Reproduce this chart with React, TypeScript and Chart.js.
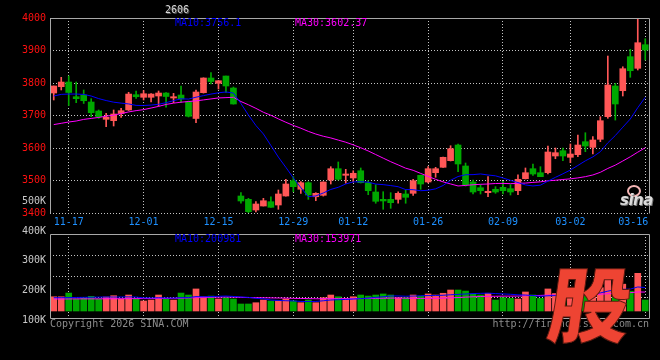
import React, { useEffect, useRef } from "react";
import { Chart, registerables } from "chart.js";

Chart.register(...registerables);

// ---------- data ----------
const dates = [
  "11-13", "11-14", "11-17", "11-18", "11-19", "11-20", "11-21", "11-24", "11-25", "11-26",
  "11-27", "11-28", "12-01", "12-02", "12-03", "12-04", "12-05", "12-08", "12-09", "12-10",
  "12-11", "12-12", "12-15", "12-16", "12-17", "12-18", "12-19", "12-22", "12-23", "12-24",
  "12-25", "12-26", "12-29", "12-30", "12-31", "01-05", "01-06", "01-07", "01-08", "01-09",
  "01-12", "01-13", "01-14", "01-15", "01-16", "01-19", "01-20", "01-21", "01-22", "01-23",
  "01-26", "01-27", "01-28", "01-29", "01-30", "02-02", "02-03", "02-04", "02-05", "02-06",
  "02-09", "02-10", "02-11", "02-12", "02-13", "02-24", "02-25", "02-26", "02-27", "03-02",
  "03-03", "03-04", "03-05", "03-06", "03-09", "03-10", "03-11", "03-12", "03-13", "03-16",
];

const tickDates = ["11-17", "12-01", "12-15", "12-29", "01-12", "01-26", "02-09", "03-02", "03-16"];

const open = [
  3769.2, 3788.6, 3803.0, 3757.8, 3763.0, 3741.5, 3713.8, 3688.3, 3684.0, 3706.0,
  3717.0, 3764.0, 3756.0, 3756.0, 3760.0, 3769.2, 3753.8, 3763.0, 3742.4, 3690.8,
  3770.2, 3815.4, 3799.0, 3821.5, 3784.6, 3452.3, 3442.1, 3409.2, 3421.5, 3434.8,
  3424.6, 3452.3, 3499.4, 3473.0, 3493.2, 3450.0, 3454.4, 3501.5, 3536.3, 3516.0,
  3507.7, 3530.0, 3493.2, 3464.6, 3442.1, 3442.0, 3442.0, 3458.5, 3460.6, 3516.0,
  3495.4, 3524.0, 3540.6, 3561.0, 3609.2, 3544.6, 3495.4, 3477.8, 3462.5, 3473.0,
  3479.0, 3474.8, 3468.6, 3505.5, 3536.3, 3524.0, 3524.0, 3575.4, 3591.7, 3571.4,
  3579.4, 3619.4, 3602.0, 3626.8, 3696.3, 3790.8, 3776.3, 3881.0, 3845.2, 3917.8,
];
const high = [
  3790.8, 3817.5, 3821.5, 3803.0, 3778.5, 3751.7, 3717.0, 3706.8, 3717.0, 3722.0,
  3771.4, 3775.4, 3777.0, 3767.7, 3775.4, 3770.8, 3768.3, 3790.8, 3744.6, 3778.5,
  3816.0, 3831.7, 3807.7, 3821.5, 3787.7, 3462.5, 3445.2, 3434.8, 3445.2, 3450.0,
  3470.8, 3503.7, 3511.7, 3496.3, 3496.3, 3462.5, 3496.0, 3542.5, 3557.0, 3534.4,
  3530.0, 3538.5, 3499.4, 3487.0, 3465.5, 3462.5, 3465.5, 3470.8, 3503.7, 3516.5,
  3542.5, 3540.6, 3572.0, 3607.0, 3612.3, 3553.8, 3501.5, 3487.0, 3511.7, 3481.0,
  3497.5, 3487.0, 3517.8, 3538.5, 3550.8, 3542.5, 3606.0, 3600.0, 3600.0, 3612.3,
  3640.0, 3647.0, 3634.8, 3696.3, 3883.0, 3799.0, 3850.0, 3903.7, 3997.8, 3936.3,
];
const low = [
  3747.7, 3778.5, 3730.8, 3739.4, 3737.0, 3696.3, 3691.0, 3665.5, 3667.7, 3694.4,
  3715.4, 3752.3, 3747.7, 3741.5, 3729.2, 3726.0, 3739.4, 3740.0, 3695.4, 3677.8,
  3769.0, 3797.0, 3781.5, 3770.8, 3735.0, 3430.0, 3400.0, 3403.0, 3421.5, 3417.0,
  3411.4, 3452.0, 3465.5, 3460.6, 3442.0, 3437.8, 3452.0, 3489.2, 3501.5, 3491.4,
  3495.4, 3492.3, 3456.3, 3430.0, 3411.4, 3414.4, 3430.0, 3430.0, 3454.4, 3473.0,
  3492.3, 3509.8, 3540.0, 3560.0, 3527.0, 3483.0, 3458.5, 3458.5, 3450.0, 3460.6,
  3458.5, 3455.4, 3456.3, 3504.6, 3516.0, 3511.7, 3520.0, 3567.0, 3561.0, 3554.7,
  3573.2, 3588.6, 3581.5, 3619.4, 3691.4, 3686.0, 3760.0, 3817.5, 3840.0, 3870.8,
];
const close = [
  3790.8, 3803.0, 3770.8, 3751.7, 3745.5, 3708.6, 3696.3, 3694.4, 3704.6, 3714.8,
  3766.0, 3757.8, 3767.0, 3766.0, 3769.2, 3758.5, 3757.8, 3750.8, 3697.5, 3772.3,
  3815.4, 3804.6, 3807.0, 3790.8, 3735.4, 3437.0, 3404.0, 3427.7, 3437.8, 3417.5,
  3458.5, 3489.2, 3481.0, 3493.2, 3455.4, 3460.6, 3495.4, 3536.3, 3503.7, 3520.0,
  3522.2, 3493.2, 3468.6, 3436.0, 3437.0, 3431.7, 3460.6, 3448.3, 3499.4, 3489.2,
  3536.3, 3536.3, 3571.4, 3597.8, 3550.8, 3487.0, 3464.6, 3468.6, 3466.8, 3464.6,
  3468.6, 3464.6, 3503.7, 3524.0, 3520.0, 3511.7, 3587.7, 3585.6, 3575.4, 3581.5,
  3609.2, 3606.2, 3624.6, 3684.0, 3793.8, 3735.4, 3844.0, 3837.8, 3924.0, 3901.5,
];

const ma10 = [
  3760, 3765, 3766, 3766, 3765, 3760, 3752, 3746, 3741, 3738.1,
  3735.6, 3731.1, 3730.7, 3732.1, 3734.5, 3739.5, 3745.6, 3751.3, 3750.5, 3756.3,
  3761.2, 3765.9, 3769.9, 3772.4, 3769.0, 3736.9, 3701.5, 3669.2, 3643.2, 3607.7,
  3572.0, 3540.5, 3507.9, 3478.1, 3450.1, 3452.5, 3461.6, 3472.5, 3479.1, 3489.3,
  3495.7, 3496.1, 3494.9, 3489.1, 3487.3, 3484.4, 3480.9, 3472.1, 3471.7, 3468.6,
  3470.0, 3474.3, 3484.6, 3500.8, 3512.2, 3517.7, 3518.1, 3520.1, 3516.9, 3514.4,
  3507.7, 3500.5, 3493.7, 3486.3, 3483.3, 3485.7, 3498.0, 3509.7, 3520.6, 3532.3,
  3546.3, 3560.5, 3572.6, 3588.6, 3616.0, 3638.3, 3664.0, 3689.2, 3724.1, 3756.1,
];
const ma30 = [
  3672, 3676, 3680, 3683, 3688, 3691, 3694, 3698, 3701, 3706,
  3711, 3715, 3718, 3723, 3728, 3734, 3738, 3741, 3743, 3745,
  3748, 3751, 3754, 3755, 3756, 3743, 3733, 3722, 3710, 3700.7,
  3689.6, 3679.2, 3669.5, 3660.9, 3651.2, 3642.9, 3636.2, 3631.0, 3624.3, 3617.8,
  3609.7, 3600.8, 3590.9, 3579.9, 3568.8, 3557.9, 3548.0, 3537.9, 3531.3, 3521.9,
  3512.6, 3503.6, 3495.8, 3489.4, 3483.2, 3484.9, 3486.9, 3488.3, 3489.2, 3490.8,
  3491.1, 3490.3, 3491.1, 3492.1, 3494.2, 3495.9, 3499.0, 3500.7, 3503.1, 3505.1,
  3508.0, 3511.8, 3517.0, 3525.2, 3537.1, 3547.3, 3560.0, 3573.0, 3587.2, 3600.9,
];

// volume in thousands (K)
const volume = [
  122, 122, 154, 103, 114, 126, 103, 120, 131, 103,
  137, 103, 86, 94, 137, 103, 94, 154, 137, 189,
  122, 128, 103, 114, 103, 60, 60, 71, 94, 86,
  86, 103, 86, 71, 94, 71, 114, 137, 122, 108,
  122, 137, 128, 137, 146, 137, 114, 114, 137, 128,
  146, 137, 152, 180, 180, 171, 146, 137, 152, 94,
  114, 108, 103, 163, 137, 108, 189, 150, 140, 145,
  170, 160, 150, 200, 290, 223, 230, 170, 323, 94,
];
const volMa10 = [
  114, 114, 115, 116, 117, 118, 119, 120, 120, 119.8,
  121.3, 119.4, 112.6, 111.7, 114.0, 111.7, 110.8, 114.2, 114.8, 123.4,
  121.9, 124.4, 126.1, 128.1, 124.7, 120.4, 117.0, 108.7, 104.4, 94.1,
  90.5, 88.0, 86.3, 82.0, 81.1, 82.2, 87.6, 94.2, 97.0, 99.2,
  102.8, 106.2, 110.4, 117.0, 122.2, 128.8, 128.8, 126.5, 128.0, 130.0,
  132.4, 132.4, 134.8, 139.1, 142.5, 145.9, 149.1, 151.4, 152.9, 149.5,
  146.3, 143.4, 138.5, 136.8, 132.5, 126.2, 130.5, 131.8, 130.6, 135.7,
  141.3, 146.5, 151.2, 154.9, 170.2, 181.7, 185.8, 187.8, 206.1, 201.0,
];
const volMa30 = [
  103, 103, 103, 104, 104, 104, 104, 105, 105, 105,
  106, 106, 106, 107, 107, 108, 109, 110, 112, 114,
  116, 118, 119, 120, 119, 117, 115, 114, 113, 112.4,
  111.2, 110.6, 108.3, 107.3, 106.6, 104.8, 105.1, 105.7, 105.4, 105.6,
  105.1, 106.2, 107.6, 109.0, 109.3, 110.5, 111.1, 109.8, 109.8, 107.8,
  108.6, 108.9, 110.5, 112.7, 115.3, 119.0, 121.8, 124.0, 126.0, 126.2,
  127.2, 127.3, 127.9, 131.0, 132.4, 133.6, 136.1, 136.6, 137.2, 138.4,
  140.0, 140.8, 141.5, 143.6, 148.4, 151.3, 155.1, 157.0, 163.2, 162.1,
];

const volumeTickValues = [100, 200, 300, 400, 500];

const legendPrice = { ma10: "MA10:3756.1", ma30: "MA30:3602.37" };
const legendVolume = { ma10: "MA10:200981", ma30: "MA30:153971" };

// ---------- styles ----------
const RED = "#ff5757";
const GREEN = "#00a800";
const GRID = "#c4c4c4";
const FRAME = "#a8a8a8";
const MONO = "'DejaVu Sans Mono', monospace";

const framePlugin = {
  id: "frame",
  afterDatasetsDraw(chart: any, _args: any, opts: any) {
    const { ctx, chartArea: a } = chart;
    ctx.save();
    ctx.strokeStyle = FRAME;
    ctx.lineWidth = 1;
    ctx.setLineDash([]);
    const l = Math.round(a.left) + 0.5;
    const r = Math.round(a.right) + 0.5;
    const t = Math.round(a.top) + 0.5;
    const b = Math.round(a.bottom) + 0.5;
    ctx.beginPath();
    ctx.moveTo(l, b);
    ctx.lineTo(l, t);
    ctx.lineTo(r, t);
    ctx.lineTo(r, b);
    if (opts && opts.bottom) ctx.lineTo(l, b);
    ctx.stroke();
    ctx.restore();
  },
};

const tickIdx = tickDates.map((d) => dates.indexOf(d));
const candleColors = close.map((c, i) => (c >= open[i] ? RED : GREEN));

const xAxisBase = (showLabels: boolean) => ({
  type: "category" as const,
  offset: true,
  grid: { color: GRID, offset: false, drawTicks: false, lineWidth: 1 },
  border: { display: false, dash: [1, 2] },
  ticks: {
    display: showLabels,
    autoSkip: false,
    maxRotation: 0,
    minRotation: 0,
    color: "#1e90ff",
    font: { family: MONO, size: 10 },
    padding: 3,
    callback: (v: number) => (v === dates.length - 1 ? dates[v] + "    " : dates[v]),
  },
  afterBuildTicks: (s: any) => {
    s.ticks = tickIdx.map((v) => ({ value: v }));
  },
  afterFit: (s: any) => {
    s.height = showLabels ? 19 : 0;
    s.paddingLeft = 0;
    s.paddingRight = 0;
  },
});

const VOL_MIN = -60;
const VOL_MAX = 660;

export default function App() {
  const priceRef = useRef<HTMLCanvasElement>(null);
  const volRef = useRef<HTMLCanvasElement>(null);

  useEffect(() => {
    const price = new Chart(priceRef.current as HTMLCanvasElement, {
      type: "bar",
      data: {
        labels: dates,
        datasets: [
          {
            type: "line",
            data: ma10,
            borderColor: "#0000ff",
            borderWidth: 1,
            pointRadius: 0,
            tension: 0,
            fill: false,
            order: 0,
          } as any,
          {
            type: "line",
            data: ma30,
            borderColor: "#ff00ff",
            borderWidth: 1,
            pointRadius: 0,
            tension: 0,
            fill: false,
            order: 0,
          } as any,
          {
            type: "bar",
            data: open.map((o, i) => [Math.min(o, close[i]), Math.max(o, close[i])]),
            backgroundColor: candleColors,
            barThickness: 6,
            minBarLength: 1,
            grouped: false,
            order: 1,
          } as any,
          {
            type: "bar",
            data: low.map((l, i) => [l, high[i]]),
            backgroundColor: candleColors,
            barThickness: 1,
            grouped: false,
            order: 2,
          } as any,
        ],
      },
      options: {
        animation: false,
        responsive: false,
        devicePixelRatio: 1,
        events: [],
        layout: { padding: { top: 18, right: 11, bottom: 0, left: 0 } },
        plugins: {
          legend: { display: false },
          tooltip: { enabled: false },
          frame: { bottom: false },
        } as any,
        scales: {
          x: xAxisBase(true) as any,
          y: {
            min: 3400,
            max: 4000,
            ticks: {
              stepSize: 100,
              color: "#ff1010",
              font: { family: MONO, size: 10 },
              padding: 4,
              callback: (v: number) => String(v),
            },
            grid: { color: GRID, drawTicks: false },
            border: { display: false, dash: [1, 2] },
            afterFit: (s: any) => {
              s.width = 50;
            },
          } as any,
        },
      },
      plugins: [framePlugin],
    });

    const vol = new Chart(volRef.current as HTMLCanvasElement, {
      type: "bar",
      data: {
        labels: dates,
        datasets: [
          {
            type: "line",
            data: volMa10,
            borderColor: "#0000ff",
            borderWidth: 1,
            pointRadius: 0,
            tension: 0,
            fill: false,
            order: 0,
          } as any,
          {
            type: "line",
            data: volMa30,
            borderColor: "#ff00ff",
            borderWidth: 1,
            pointRadius: 0,
            tension: 0,
            fill: false,
            order: 0,
          } as any,
          {
            type: "bar",
            data: volume,
            backgroundColor: candleColors,
            barThickness: 6,
            order: 1,
          } as any,
        ],
      },
      options: {
        animation: false,
        responsive: false,
        devicePixelRatio: 1,
        events: [],
        layout: { padding: { top: 44, right: 11, bottom: 42, left: 0 } },
        plugins: {
          legend: { display: false },
          tooltip: { enabled: false },
          frame: { bottom: true },
        } as any,
        scales: {
          x: xAxisBase(false) as any,
          y: {
            min: VOL_MIN,
            max: VOL_MAX,
            ticks: { display: false },
            grid: { color: GRID, drawTicks: false },
            border: { display: false, dash: [1, 2] },
            afterBuildTicks: (s: any) => {
              s.ticks = [1, 2, 3].map((k) => ({ value: VOL_MIN + ((VOL_MAX - VOL_MIN) * k) / 4 }));
            },
            afterFit: (s: any) => {
              s.width = 0;
            },
          } as any,
          yl: {
            position: "left",
            min: 108.5,
            max: 389.95,
            grid: { display: false, drawTicks: false },
            border: { display: false },
            ticks: {
              autoSkip: false,
              color: "#c8c8c8",
              font: { family: MONO, size: 10 },
              padding: 4,
              callback: (v: number) => v + "K",
            },
            afterBuildTicks: (s: any) => {
              s.ticks = volumeTickValues.map((v) => ({ value: v }));
            },
            afterFit: (s: any) => {
              s.width = 50;
            },
          } as any,
        },
      },
      plugins: [framePlugin],
    });

    return () => {
      price.destroy();
      vol.destroy();
    };
  }, []);

  const txt = (extra: any): any => ({
    position: "absolute",
    fontFamily: MONO,
    fontSize: 10,
    lineHeight: "12px",
    whiteSpace: "pre",
    ...extra,
  });

  return (
    <div
      style={{
        position: "fixed",
        left: 0,
        top: 0,
        width: 660,
        height: 360,
        background: "#000",
        overflow: "hidden",
      }}
    >
      <canvas ref={priceRef} width={660} height={232} style={{ position: "absolute", left: 0, top: 0 }} />
      <canvas ref={volRef} width={660} height={170} style={{ position: "absolute", left: 0, top: 190 }} />

      <div style={txt({ left: 165, top: 4, color: "#d8d8d8", textShadow: "1px 1px 0 #555" })}>2606</div>
      <div style={txt({ left: 175, top: 17, color: "#0000ff" })}>{legendPrice.ma10}</div>
      <div style={txt({ left: 295, top: 17, color: "#ff00ff" })}>{legendPrice.ma30}</div>
      <div style={txt({ left: 175, top: 233, color: "#0000ff" })}>{legendVolume.ma10}</div>
      <div style={txt({ left: 295, top: 233, color: "#ff00ff" })}>{legendVolume.ma30}</div>
      <div style={txt({ left: 50, top: 318, color: "#8c8c8c" })}>Copyright 2026 SINA.COM</div>
      <div style={txt({ right: 11, top: 318, color: "#8c8c8c" })}>http://finance.sina.com.cn</div>

      {/* sina watermark */}
      <div
        style={{
          position: "absolute",
          left: 627,
          top: 185,
          width: 10,
          height: 8,
          border: "2px solid #f2b4b4",
          borderRadius: "50%",
        }}
      />
      <div
        style={{
          position: "absolute",
          left: 620,
          top: 193,
          fontFamily: "'DejaVu Sans', sans-serif",
          fontStyle: "italic",
          fontWeight: "bold",
          fontSize: 15,
          lineHeight: "15px",
          letterSpacing: "-0.5px",
          color: "#dcdcdc",
          textShadow: "1px 1px 0 #777",
        }}
      >
        sina
      </div>

      {/* 股 logo */}
      <div
        style={{
          position: "absolute",
          left: 544,
          top: 260,
          fontFamily: "'Noto Sans CJK SC', sans-serif",
          fontWeight: 900,
          fontSize: 82,
          lineHeight: "82px",
          color: "#ee4433",
          WebkitTextStroke: "1px #5a1a10",
          transform: "skewX(-8deg)",
          transformOrigin: "bottom left",
        }}
      >
        股
      </div>
    </div>
  );
}
